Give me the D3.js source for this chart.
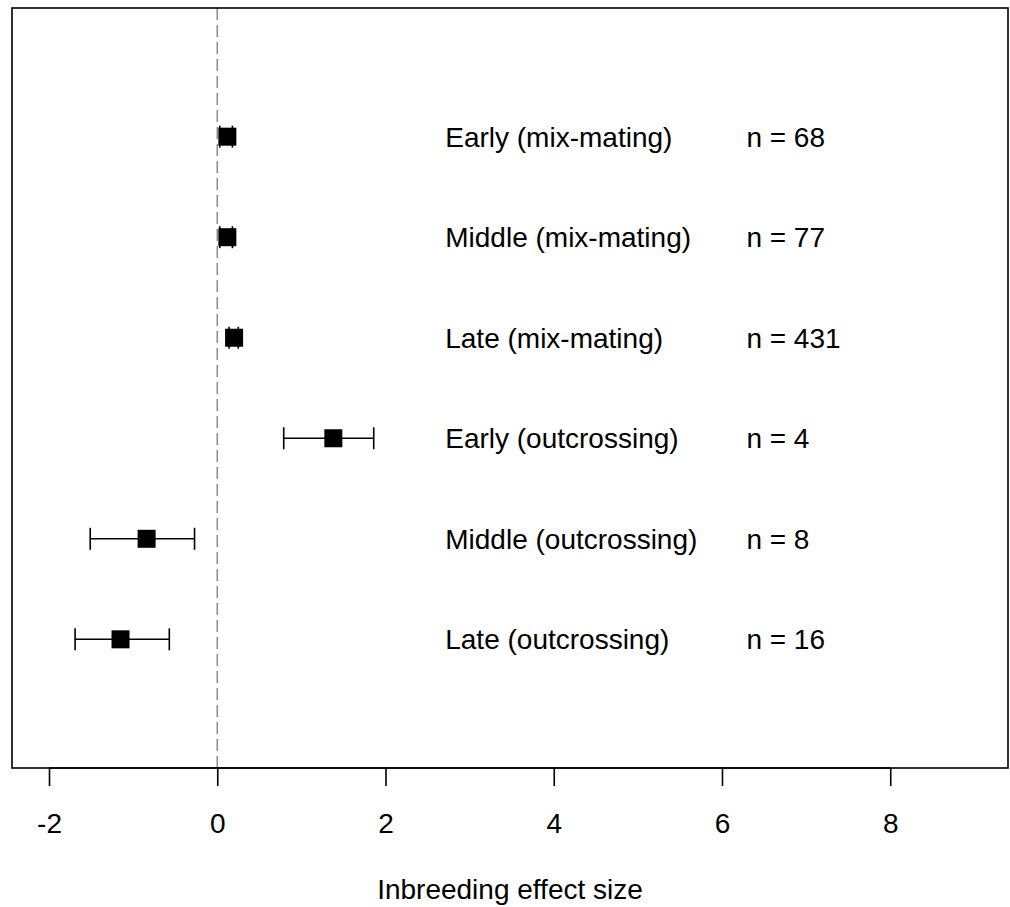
<!DOCTYPE html>
<html>
<head>
<meta charset="utf-8">
<script src="https://cdn.jsdelivr.net/npm/d3@7"></script>
<style>
  html, body { margin: 0; padding: 0; background: #fff; }
  svg { display: block; }
  text { font-family: "Liberation Sans", Arial, sans-serif; fill: #000; }
</style>
</head>
<body>
<svg id="chart" width="1010" height="907"></svg>
<script>
// Groups, top to bottom
const groups = [
  "Early (mix-mating)",
  "Middle (mix-mating)",
  "Late (mix-mating)",
  "Early (outcrossing)",
  "Middle (outcrossing)",
  "Late (outcrossing)"
];
// Mean effect size and confidence bounds per group
const means = [0.12, 0.12, 0.20, 1.38, -0.84, -1.15];
const lower = [0.03, 0.03, 0.14, 0.79, -1.51, -1.69];
const upper = [0.18, 0.18, 0.25, 1.86, -0.27, -0.57];
// Sample sizes
const counts = [68, 77, 431, 4, 8, 16];
// Axis ticks
const xTicks = [-2, 0, 2, 4, 6, 8];
const xTitle = "Inbreeding effect size";

const svg = d3.select("#chart");
const box = { left: 12, right: 1008, top: 8, bottom: 768 };
const fontSize = 28;

const x = d3.scaleLinear().domain([-2.44, 9.40]).range([box.left, box.right]);
// rows placed at 6 (top) .. 1 (bottom) on a 0..7 scale with a small pad
const y = d3.scaleLinear().domain([-0.28, 7.28]).range([box.bottom, box.top]);
const rowY = i => y(groups.length - i);

// reference line at zero
svg.append("line")
  .attr("x1", x(0)).attr("x2", x(0))
  .attr("y1", box.top).attr("y2", box.bottom)
  .attr("stroke", "#8c8c8c").attr("stroke-width", 1.5)
  .attr("stroke-dasharray", "12,5");

// error bars
const rows = svg.append("g").selectAll("g")
  .data(groups.map((g, i) => ({ g, i, m: means[i], lo: lower[i], hi: upper[i], n: counts[i] })))
  .join("g");

rows.append("line")
  .attr("x1", d => x(d.lo)).attr("x2", d => x(d.hi))
  .attr("y1", d => rowY(d.i)).attr("y2", d => rowY(d.i))
  .attr("stroke", "#000").attr("stroke-width", 1.6);

const capH = 11;
rows.selectAll("line.cap")
  .data(d => [d.lo, d.hi].map(v => ({ v, i: d.i })))
  .join("line")
  .attr("class", "cap")
  .attr("x1", d => x(d.v)).attr("x2", d => x(d.v))
  .attr("y1", d => rowY(d.i) - capH).attr("y2", d => rowY(d.i) + capH)
  .attr("stroke", "#000").attr("stroke-width", 1.6);

const sq = 18;
rows.append("rect")
  .attr("x", d => x(d.m) - sq / 2).attr("y", d => rowY(d.i) - sq / 2)
  .attr("width", sq).attr("height", sq)
  .attr("fill", "#000");

// group labels and sample sizes
rows.append("text")
  .attr("x", x(2.71)).attr("y", d => rowY(d.i) + fontSize * 0.358)
  .attr("font-size", fontSize)
  .text(d => d.g);
rows.append("text")
  .attr("x", x(6.29)).attr("y", d => rowY(d.i) + fontSize * 0.358)
  .attr("font-size", fontSize)
  .text(d => "n = " + d.n);

// frame
svg.append("rect")
  .attr("x", box.left).attr("y", box.top)
  .attr("width", box.right - box.left).attr("height", box.bottom - box.top)
  .attr("fill", "none").attr("stroke", "#000").attr("stroke-width", 1.6);

// x axis
const axis = svg.append("g")
  .attr("transform", `translate(0,${box.bottom})`)
  .call(d3.axisBottom(x).tickValues(xTicks).tickSize(18).tickPadding(28).tickFormat(d3.format("d")));
axis.select(".domain")
  .attr("d", `M${x(xTicks[0])},0H${x(xTicks[xTicks.length - 1])}`)
  .attr("stroke-width", 1.6);
axis.selectAll(".tick line").attr("stroke-width", 1.6);
axis.selectAll(".tick text")
  .attr("font-size", fontSize)
  .attr("font-family", "Liberation Sans, Arial, sans-serif")
  .attr("dy", null)
  .attr("y", 833 - box.bottom)
  .text(d => d < 0 ? "-" + Math.abs(d) : d);

svg.append("text")
  .attr("x", 510).attr("y", 899)
  .attr("text-anchor", "middle")
  .attr("font-size", fontSize)
  .text(xTitle);
</script>
</body>
</html>
